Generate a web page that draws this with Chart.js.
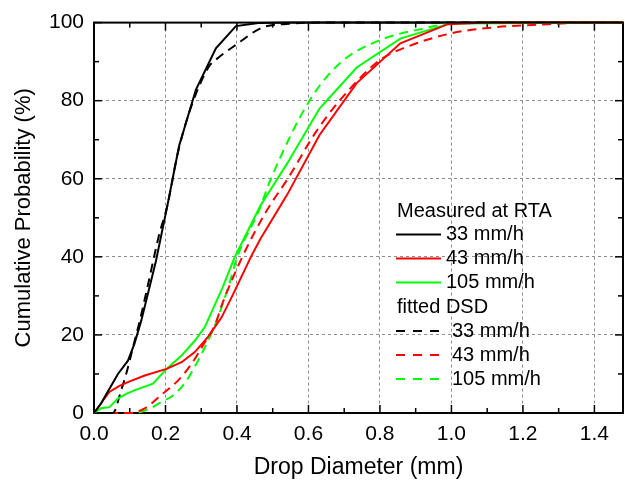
<!DOCTYPE html>
<html>
<head>
<meta charset="utf-8">
<script src="https://cdn.jsdelivr.net/npm/chart.js@4.4.0/dist/chart.umd.min.js"></script>
<style>
  html, body { margin: 0; padding: 0; background: #fff; }
  #wrap { width: 625px; height: 484px; }
</style>
</head>
<body>
<div id="wrap"><canvas id="cdf-chart"></canvas></div>
<script>
// --- Axis ticks --- //
const xTicks = [0, 0.2, 0.4, 0.6, 0.8, 1.0, 1.2, 1.4];
const xTickLabels = ['0.0', '0.2', '0.4', '0.6', '0.8', '1.0', '1.2', '1.4'];
const xMinorTicks = [0.1, 0.3, 0.5, 0.7, 0.9, 1.1, 1.3];
const yTicks = [0, 20, 40, 60, 80, 100];
const yTickLabels = ['0', '20', '40', '60', '80', '100'];
const yMinorTicks = [10, 30, 50, 70, 90];

// --- Series (drop diameter in mm, cumulative probability in %) --- //
const meas33D = [0, 0.02, 0.038, 0.067, 0.095, 0.113, 0.132, 0.173, 0.205, 0.238, 0.285, 0.341, 0.397, 0.46, 0.55, 1.48];
const meas33P = [0, 2.5, 5.4, 10, 13.4, 17.7, 23.6, 38.8, 53, 68.4, 82.8, 93.4, 99.1, 99.9, 100, 100];

const meas43D = [0, 0.015, 0.029, 0.043, 0.07, 0.095, 0.142, 0.203, 0.245, 0.282, 0.319, 0.357, 0.387, 0.439, 0.465, 0.541, 0.631, 0.735, 0.857, 0.99, 1.1, 1.48];
const meas43P = [0, 1.8, 3.7, 5.4, 6.9, 7.9, 9.6, 11.3, 13, 15.6, 19.5, 24.5, 30, 40, 44.5, 56, 71.2, 84.5, 94.7, 99.6, 100, 100];

const meas105D = [0, 0.02, 0.043, 0.067, 0.09, 0.113, 0.165, 0.203, 0.245, 0.282, 0.31, 0.359, 0.394, 0.465, 0.541, 0.631, 0.735, 0.857, 0.997, 1.48];
const meas105P = [0, 1.2, 1.5, 3.7, 4.9, 5.8, 7.5, 11.3, 14.7, 18.5, 22, 32, 40, 53, 64, 78, 88.5, 95.9, 99.8, 100];

const fit33D = [0, 0.053, 0.076, 0.09, 0.109, 0.128, 0.149, 0.182, 0.205, 0.233, 0.266, 0.322, 0.341, 0.397, 0.47, 0.546, 0.65, 1.48];
const fit33P = [0, 0, 5.8, 10, 16.8, 23.6, 32, 45.6, 53, 66, 76.9, 88.8, 90.5, 94.3, 98.7, 99.7, 100, 100];

const fit43D = [0, 0.1, 0.142, 0.193, 0.235, 0.273, 0.31, 0.338, 0.359, 0.415, 0.481, 0.542, 0.621, 0.687, 0.8, 0.876, 0.997, 1.11, 1.25, 1.4, 1.48];
const fit43P = [0, 0, 1.2, 5, 8.3, 12.6, 18.1, 22.4, 28, 40, 51.5, 60, 72, 80, 90.4, 93.8, 97.2, 98.7, 99.5, 100, 100];

const fit105D = [0, 0.113, 0.151, 0.188, 0.221, 0.259, 0.291, 0.319, 0.343, 0.378, 0.401, 0.462, 0.495, 0.603, 0.688, 0.8, 0.922, 1.0, 1.1, 1.48];
const fit105P = [0, 0, 0.9, 2.8, 4.5, 8.3, 13.4, 18.5, 23.6, 32.9, 40, 52, 60, 80, 89.6, 95.5, 98.5, 99.8, 100, 100];

const rateLabels = ['33 mm/h', '43 mm/h', '105 mm/h'];
const rateColors = ['#000000', '#ff0000', '#00ff00'];

const FONT = '"Liberation Sans", Arial, Helvetica, sans-serif';

const toPoints = (xs, ys) => xs.map((x, i) => ({ x, y: ys[i] }));
// measured curves keep their corners, fitted curves are smooth
const makeSet = (label, xs, ys, color, fitted) => ({
    label,
    data: toPoints(xs, ys),
    borderColor: color,
    backgroundColor: color,
    borderWidth: 2,
    borderDash: fitted ? [9, 6] : [],
    cubicInterpolationMode: fitted ? 'monotone' : 'default',
    tension: 0,
    pointRadius: 0,
    fill: false,
    clip: false
});

// --- Frame with inward ticks on all four sides --- //
const frameTicks = {
    id: 'frameTicks',
    beforeDatasetsDraw(chart) {
        const { ctx, chartArea: a, scales: { x, y } } = chart;
        ctx.save();
        ctx.strokeStyle = '#000';
        ctx.lineWidth = 1.5;
        const seg = (x1, y1, x2, y2) => { ctx.beginPath(); ctx.moveTo(x1, y1); ctx.lineTo(x2, y2); ctx.stroke(); };
        const xTick = (v, len) => {
            const px = x.getPixelForValue(v);
            seg(px, a.bottom, px, a.bottom - len);
            seg(px, a.top, px, a.top + len);
        };
        const yTick = (v, len) => {
            const py = y.getPixelForValue(v);
            seg(a.left, py, a.left + len, py);
            seg(a.right, py, a.right - len, py);
        };
        xTicks.forEach(v => xTick(v, 8));
        xMinorTicks.forEach(v => xTick(v, 5));
        yTicks.forEach(v => yTick(v, 8));
        yMinorTicks.forEach(v => yTick(v, 5));
        ctx.lineWidth = 2;
        ctx.strokeRect(a.left, a.top, a.right - a.left, a.bottom - a.top);
        ctx.restore();
    }
};

// --- Legend drawn inside the plot, with two group headers --- //
const groupLegend = {
    id: 'groupLegend',
    afterDraw(chart) {
        const { ctx } = chart;
        const sets = chart.data.datasets;
        ctx.save();
        ctx.font = '20px ' + FONT;
        ctx.fillStyle = '#000';
        ctx.textBaseline = 'middle';
        ctx.textAlign = 'left';
        ctx.fillText('Measured at RTA', 397, 211);
        ctx.fillText('fitted DSD', 397, 307);
        const rows = [
            { ds: sets[0], y: 234.5, tx: 446 },
            { ds: sets[1], y: 258.5, tx: 446 },
            { ds: sets[2], y: 282.5, tx: 446 },
            { ds: sets[3], y: 331, tx: 452 },
            { ds: sets[4], y: 355, tx: 452 },
            { ds: sets[5], y: 379, tx: 452 }
        ];
        rows.forEach(r => {
            ctx.strokeStyle = r.ds.borderColor;
            ctx.lineWidth = 2;
            ctx.setLineDash(r.ds.borderDash.length ? [9, 8] : []);
            ctx.beginPath();
            ctx.moveTo(396, r.y);
            ctx.lineTo(441, r.y);
            ctx.stroke();
            ctx.setLineDash([]);
            ctx.fillText(r.ds.label, r.tx, r.y);
        });
        ctx.restore();
    }
};

const cdfCtx = document.getElementById('cdf-chart').getContext('2d');

new Chart(cdfCtx, {
    type: 'line',
    data: {
        datasets: [
            makeSet(rateLabels[0], meas33D, meas33P, rateColors[0], false),
            makeSet(rateLabels[1], meas43D, meas43P, rateColors[1], false),
            makeSet(rateLabels[2], meas105D, meas105P, rateColors[2], false),
            makeSet(rateLabels[0], fit33D, fit33P, rateColors[0], true),
            makeSet(rateLabels[1], fit43D, fit43P, rateColors[1], true),
            makeSet(rateLabels[2], fit105D, fit105P, rateColors[2], true)
        ]
    },
    options: {
        responsive: true,
        maintainAspectRatio: false,
        animation: false,
        layout: { padding: { top: 19, right: 2, left: 0, bottom: 0 } },
        plugins: {
            legend: { display: false },
            tooltip: { enabled: false }
        },
        scales: {
            x: {
                type: 'linear',
                min: 0,
                max: 1.48,
                afterBuildTicks: (s) => { s.ticks = xTicks.map(v => ({ value: v })); },
                afterFit: (s) => { s.height = 71; },
                ticks: {
                    callback: (v, i) => xTickLabels[i],
                    color: '#000',
                    font: { family: FONT, size: 21 },
                    padding: 9,
                    maxRotation: 0,
                    autoSkip: false
                },
                grid: { color: '#8c8c8c', lineWidth: 1, drawTicks: false },
                border: { display: false, dash: [3, 3] },
                title: {
                    display: true,
                    text: 'Drop Diameter (mm)',
                    color: '#000',
                    font: { family: FONT, size: 23 },
                    padding: { top: 0, bottom: 3 }
                }
            },
            y: {
                type: 'linear',
                min: 0,
                max: 100,
                afterBuildTicks: (s) => { s.ticks = yTicks.map(v => ({ value: v })); },
                afterFit: (s) => { s.width = 94; },
                ticks: {
                    callback: (v, i) => yTickLabels[i],
                    color: '#000',
                    font: { family: FONT, size: 21 },
                    padding: 10,
                    autoSkip: false
                },
                grid: { color: '#8c8c8c', lineWidth: 1, drawTicks: false },
                border: { display: false, dash: [3, 3] },
                title: {
                    display: true,
                    text: 'Cumulative Probability (%)',
                    color: '#000',
                    font: { family: FONT, size: 22 },
                    padding: { top: 11, bottom: 0 }
                }
            }
        }
    },
    plugins: [frameTicks, groupLegend]
});
</script>
</body>
</html>
